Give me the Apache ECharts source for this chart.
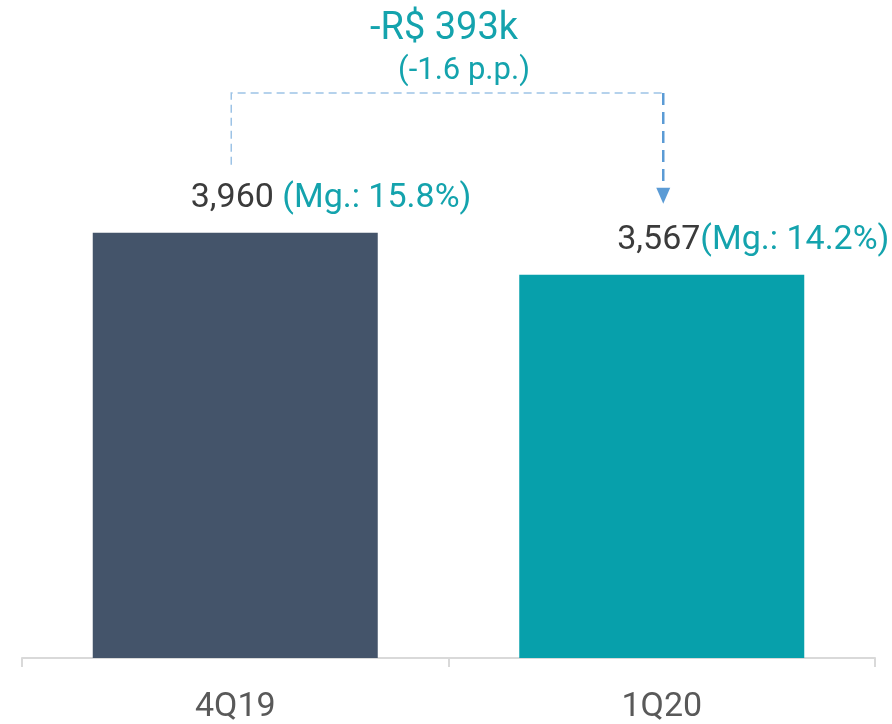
<!DOCTYPE html>
<html>
<head>
<meta charset="utf-8">
<script src="https://cdn.jsdelivr.net/npm/echarts@6/dist/echarts.min.js"></script>
<style>
  html, body { margin: 0; padding: 0; background: #fff; }
  #chart { width: 892px; height: 724px; }
</style>
</head>
<body>
<div id="chart"></div>
<script>
// Quarterly values (R$ thousand) and margins
const categories = ['4Q19', '1Q20'];
const values = [3960, 3567];
const margins = ['15.8%', '14.2%'];
const valueText = ['3,960 ', '3,567'];
const barColors = ['#44546a', '#07a0ab'];
const deltaText = '-R$ 393k';
const deltaPpText = '(-1.6 p.p.)';

const FONT = 'Roboto';
const TEAL = '#14a3ad';
const DARK = '#3b3b3b';

const chart = echarts.init(document.getElementById('chart'), null, { renderer: 'canvas' });

chart.setOption({
  animation: false,
  grid: { left: 22, right: 17, top: 13.5, bottom: 65 },
  xAxis: {
    type: 'category',
    data: categories,
    axisLine: { lineStyle: { color: '#d9d9d9', width: 2 } },
    axisTick: { show: true, length: 9, lineStyle: { color: '#d9d9d9', width: 2 } },
    axisLabel: { color: '#595959', fontFamily: FONT, fontSize: 34, margin: 32 }
  },
  yAxis: {
    type: 'value', min: 0, max: 6000, show: false,
    splitLine: { show: false }
  },
  series: [{
    type: 'bar',
    barWidth: 285,
    data: values.map((v, i) => ({
      value: v,
      itemStyle: { color: barColors[i] },
      label: {
        show: true,
        position: [98, -51],
        align: 'left',
        formatter: '{v|' + valueText[i] + '}{m|(Mg.: ' + margins[i] + ')}',
        rich: {
          v: { color: DARK, fontFamily: FONT, fontSize: 34 },
          m: { color: TEAL, fontFamily: FONT, fontSize: 34 }
        }
      }
    }))
  }]
});

// Bracket from the first bar's label down to the second bar, with the change annotation
function drawBracket() {
  const x1 = chart.convertToPixel({ xAxisIndex: 0 }, categories[0]) - 4;
  const x2 = chart.convertToPixel({ xAxisIndex: 0 }, categories[1]) + 1.5;
  const yTop1 = chart.convertToPixel({ yAxisIndex: 0 }, values[0]);
  const yTop2 = chart.convertToPixel({ yAxisIndex: 0 }, values[1]);
  const yStart = yTop1 - 68;
  const yBar = 93;
  const yTip = yTop2 - 71;
  const light = '#9dc3e6';
  const blue = '#5b9bd5';
  chart.setOption({
    graphic: [
      { type: 'polyline', shape: { points: [[x1, yStart], [x1, yBar], [x2, yBar]] },
        style: { stroke: light, lineWidth: 1.5, lineDash: [8, 5], fill: null } },
      { type: 'line', shape: { x1: x2, y1: yBar, x2: x2, y2: yTip - 14 },
        style: { stroke: blue, lineWidth: 2.5, lineDash: [12, 7] } },
      { type: 'polygon', shape: { points: [[x2 - 7, yTip - 16], [x2 + 7, yTip - 16], [x2, yTip]] },
        style: { fill: blue } },
      { type: 'text', x: 444, y: 29,
        style: { text: deltaText, fill: TEAL, font: '38px "' + FONT + '"', textAlign: 'center', textVerticalAlign: 'middle' } },
      { type: 'text', x: 464, y: 71,
        style: { text: deltaPpText, fill: TEAL, font: '31px "' + FONT + '"', textAlign: 'center', textVerticalAlign: 'middle' } }
    ]
  });
}
drawBracket();
</script>
</body>
</html>
